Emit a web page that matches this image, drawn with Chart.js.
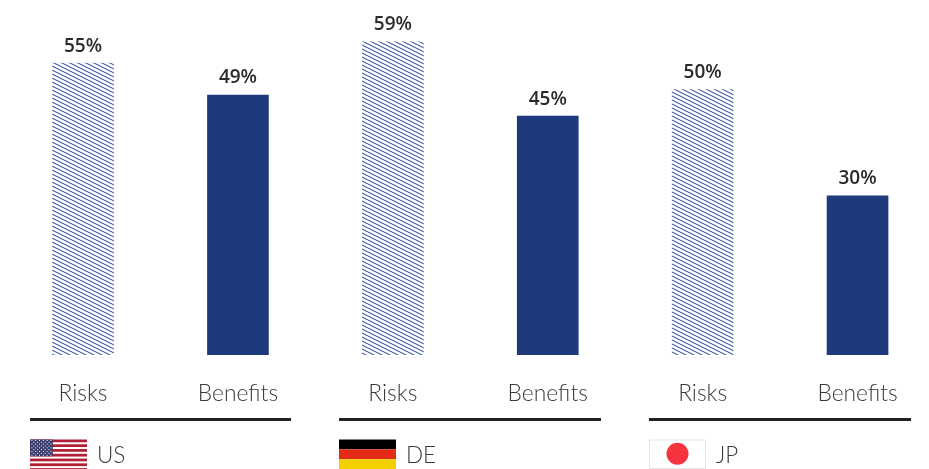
<!DOCTYPE html>
<html><head><meta charset="utf-8">
<style>html,body{margin:0;padding:0;background:#fff;overflow:hidden;width:929px;height:469px}
#w{position:relative;width:935px;height:469px}canvas{display:block}</style>
<script src="https://cdn.jsdelivr.net/npm/chart.js@4"></script></head>
<body><div id="w"><canvas id="c" width="935" height="469"></canvas></div>
<script>
const categories=["Risks","Benefits","Risks","Benefits","Risks","Benefits"];
const values=[55,49,59,45,50,30];
const countries=["US","DE","JP"];
const NAVY="#1f3a7c",INK="#2b2b2b";
function hatch(){
  const w=8,h=4,s=document.createElement('canvas');s.width=w;s.height=h;
  const g=s.getContext('2d');g.fillStyle="#fff";g.fillRect(0,0,w,h);
  g.strokeStyle="#2f4ea3";g.lineWidth=1.05;
  for(const o of [-h,0,h]){g.beginPath();g.moveTo(-2,o-1);g.lineTo(w+2,o+h+1);g.stroke();}
  return g.createPattern(s,'repeat');
}
function usFlag(g,x,y,w,h){
  const sh=h/13;g.fillStyle="#fff";g.fillRect(x,y,w,h);g.fillStyle="#b21f35";
  for(let i=0;i<13;i+=2)g.fillRect(x,y+i*sh,w,sh*1.15);
  const cw=w*.4,ch=sh*7;g.fillStyle="#3c3b6e";g.fillRect(x,y,cw,ch);
  g.fillStyle="#fff";
  for(let r=0;r<9;r++)for(let c=0;c<(r%2?5:6);c++){
    g.fillRect(x+(c+(r%2?1:.5))*cw/6-.5,y+(r+.5)*ch/9-.5,1,1);}
}
function deFlag(g,x,y,w,h){
  ["#000","#e32b17","#f4d000"].forEach((c,i)=>{g.fillStyle=c;g.fillRect(x,y+i*h/3,w,h/3);});
}
function jpFlag(g,x,y,w,h){
  g.fillStyle="#fff";g.fillRect(x,y,w,h);g.strokeStyle="#e6e6e6";g.lineWidth=1;g.strokeRect(x+.5,y+.5,w-1,h-1);
  g.fillStyle="#f63440";g.beginPath();g.arc(x+w/2,y+h/2-.5,11,0,Math.PI*2);g.fill();
}
const flags=[usFlag,deFlag,jpFlag];
const deco={id:'deco',afterDatasetsDraw(ch){
  const g=ch.ctx,m=ch.getDatasetMeta(0),sx=ch.scales.x;
  g.save();
  g.font='600 19px "Open Sans"';g.fillStyle=INK;g.textAlign='center';g.textBaseline='middle';
  m.data.forEach((b,i)=>g.fillText(values[i]+'%',b.x,b.y-17));
  countries.forEach((n,i)=>{
    const a=Math.round(sx.getPixelForValue(i*2)-53.5),b=Math.round(sx.getPixelForValue(i*2+1)+53.5);
    g.fillStyle="#222";g.fillRect(a,418,b-a,3);
    flags[i](g,a,439.5,57,i?29.5:31);
    g.font='300 22.5px Lato';g.fillStyle="#3a3a3a";g.textAlign='left';
    g.fillText(n,a+67,456);
  });
  g.restore();
}};
const ch=new Chart(document.getElementById('c'),{
  type:'bar',
  data:{labels:categories,datasets:[{data:values,
    backgroundColor:values.map((v,i)=>i%2?NAVY:hatch()),barThickness:61}]},
  options:{responsive:false,animation:false,
    layout:{padding:{left:5.6,right:0,top:36.6,bottom:0}},
    plugins:{legend:{display:false},tooltip:{enabled:false}},
    scales:{
      x:{grid:{display:false},border:{display:false},
        afterFit(s){s.height=114;},
        ticks:{color:"#3a3a3a",font:{family:'Lato',size:22.8,weight:'300'},padding:17,maxRotation:0,autoSkip:false}},
      y:{display:false,min:0,max:60}
    }},
  plugins:[deco]
});
</script></body></html>
